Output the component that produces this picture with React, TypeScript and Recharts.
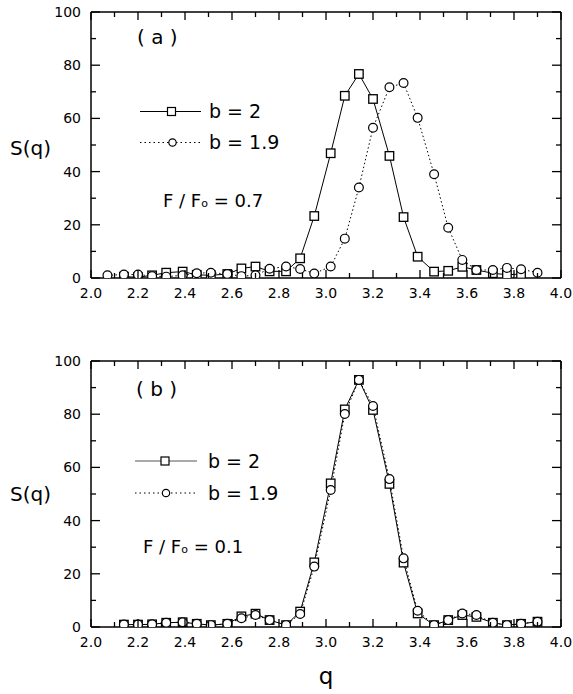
import { ComposedChart, Line, XAxis, YAxis } from "recharts";

// q positions of the data points (same grid in both panels)
const qValues = [
  2.07, 2.14, 2.2, 2.26, 2.32, 2.39, 2.45, 2.51, 2.58, 2.64,
  2.7, 2.76, 2.83, 2.89, 2.95, 3.02, 3.08, 3.14, 3.2, 3.27,
  3.33, 3.39, 3.46, 3.52, 3.58, 3.64, 3.71, 3.77, 3.83, 3.9,
];

// panel (a), F / Fo = 0.7
const squaresA = [
  null, 0.5, 0.3, 1.0, 2.0, 2.4, 1.2, 1.0, 1.5, 3.6,
  4.3, 2.5, 2.5, 7.4, 23.3, 46.9, 68.5, 76.7, 67.3, 45.9,
  22.9, 8.0, 2.4, 2.7, 4.2, 3.0, 1.8, 1.2, 1.5, null,
];
const circlesA = [
  1.0, 1.3, 1.3, 0.7, 0.5, 1.0, 1.8, 2.0, 1.5, 0.7,
  1.0, 3.5, 4.3, 3.4, 1.7, 4.3, 14.8, 34.0, 56.5, 71.7,
  73.3, 60.2, 39.0, 18.9, 6.8, 3.0, 3.0, 3.8, 3.3, 2.0,
];

// panel (b), F / Fo = 0.1
const squaresB = [
  null, 0.9, 0.9, 1.0, 1.6, 1.8, 1.2, 0.7, 1.2, 4.0,
  5.0, 2.6, 0.7, 5.8, 24.3, 54.0, 81.8, 92.9, 81.6, 53.8,
  24.2, 5.1, 0.7, 2.6, 4.5, 3.8, 1.6, 0.7, 1.2, 2.0,
];
const circlesB = [
  null, 0.9, 0.9, 1.0, 1.6, 1.8, 1.2, 0.7, 1.2, 3.3,
  4.5, 2.6, 0.7, 4.9, 22.7, 51.5, 80.1, 92.9, 83.1, 55.6,
  25.8, 6.1, 0.7, 2.6, 5.1, 4.5, 1.6, 0.7, 1.2, 2.0,
];

const xTicks = [2.0, 2.1, 2.2, 2.3, 2.4, 2.5, 2.6, 2.7, 2.8, 2.9, 3.0, 3.1, 3.2, 3.3, 3.4, 3.5, 3.6, 3.7, 3.8, 3.9, 4.0];
const yTicks = [0, 10, 20, 30, 40, 50, 60, 70, 80, 90, 100];

const FONT = "'DejaVu Sans', Verdana, sans-serif";
const axisStyle = { stroke: "#000", strokeWidth: 1.5 };

function toPoints(values: (number | null)[]) {
  return qValues
    .map((q, i) => ({ q, s: values[i] }))
    .filter((d) => d.s !== null);
}

const isMajorX = (v: number) => Math.round(v * 10) % 2 === 0;
const isMajorY = (v: number) => Math.round(v) % 20 === 0;

const BottomTick = (props: any) => {
  const { x, y, payload } = props;
  const major = isMajorX(payload.value);
  return (
    <g>
      <line x1={x} y1={y} x2={x} y2={y - (major ? 8 : 5)} stroke="#000" strokeWidth={1.3} />
      {major && (
        <text x={x} y={y + 20} textAnchor="middle" fontSize={14} fontFamily={FONT} fill="#000">
          {Number(payload.value).toFixed(1)}
        </text>
      )}
    </g>
  );
};

const TopTick = (props: any) => {
  const { x, y, payload } = props;
  const major = isMajorX(payload.value);
  return <line x1={x} y1={y} x2={x} y2={y + (major ? 8 : 5)} stroke="#000" strokeWidth={1.3} />;
};

const LeftTick = (props: any) => {
  const { x, y, payload } = props;
  const major = isMajorY(payload.value);
  return (
    <g>
      <line x1={x} y1={y} x2={x + (major ? 9 : 5)} y2={y} stroke="#000" strokeWidth={1.3} />
      {major && (
        <text x={x - 10} y={y + 5} textAnchor="end" fontSize={14} fontFamily={FONT} fill="#000">
          {payload.value}
        </text>
      )}
    </g>
  );
};

const RightTick = (props: any) => {
  const { x, y, payload } = props;
  const major = isMajorY(payload.value);
  return <line x1={x} y1={y} x2={x - (major ? 9 : 5)} y2={y} stroke="#000" strokeWidth={1.3} />;
};

const SquareDot = (props: any) => {
  const { cx, cy } = props;
  if (cx == null || cy == null) return null;
  return (
    <rect x={cx - 4.25} y={cy - 4.25} width={8.5} height={8.5} fill="#fff" stroke="#000" strokeWidth={1.3} />
  );
};

const CircleDot = (props: any) => {
  const { cx, cy } = props;
  if (cx == null || cy == null) return null;
  return <circle cx={cx} cy={cy} r={4.4} fill="#fff" stroke="#000" strokeWidth={1.2} />;
};

function Panel(props: {
  squares: (number | null)[];
  circles: (number | null)[];
  height: number;
  marginTop: number;
  bottomHeight: number;
}) {
  const { squares, circles, height, marginTop, bottomHeight } = props;
  return (
    <ComposedChart width={573} height={height} margin={{ top: marginTop, right: 11, bottom: 0, left: 0 }}>
      <XAxis
        xAxisId="bottom"
        type="number"
        dataKey="q"
        domain={[2, 4]}
        ticks={xTicks}
        interval={0}
        tickSize={0}
        tickMargin={0}
        tickLine={false}
        axisLine={axisStyle}
        tick={<BottomTick />}
        height={bottomHeight}
        allowDataOverflow
      />
      <XAxis
        xAxisId="top"
        orientation="top"
        type="number"
        dataKey="q"
        domain={[2, 4]}
        ticks={xTicks}
        interval={0}
        tickSize={0}
        tickMargin={0}
        tickLine={false}
        axisLine={axisStyle}
        tick={<TopTick />}
        height={1}
        allowDataOverflow
      />
      <YAxis
        yAxisId="left"
        type="number"
        domain={[0, 100]}
        ticks={yTicks}
        interval={0}
        tickSize={0}
        tickMargin={0}
        tickLine={false}
        axisLine={axisStyle}
        tick={<LeftTick />}
        width={91}
        allowDataOverflow
      />
      <YAxis
        yAxisId="right"
        orientation="right"
        type="number"
        domain={[0, 100]}
        ticks={yTicks}
        interval={0}
        tickSize={0}
        tickMargin={0}
        tickLine={false}
        axisLine={axisStyle}
        tick={<RightTick />}
        width={1}
        allowDataOverflow
      />
      <Line
        xAxisId="bottom"
        yAxisId="left"
        data={toPoints(squares)}
        dataKey="s"
        stroke="#000"
        strokeWidth={1}
        dot={(p: any) => <SquareDot key={`s-${p.index}`} {...p} />}
        activeDot={false}
        isAnimationActive={false}
      />
      <Line
        xAxisId="bottom"
        yAxisId="left"
        data={toPoints(circles)}
        dataKey="s"
        stroke="#000"
        strokeWidth={1}
        strokeDasharray="1.5 2.5"
        dot={(p: any) => <CircleDot key={`c-${p.index}`} {...p} />}
        activeDot={false}
        isAnimationActive={false}
      />
    </ComposedChart>
  );
}

function Legend(props: { y1: number; y2: number; x0: number; x1: number; mx: number; tx: number; color: string }) {
  const { y1, y2, x0, x1, mx, tx, color } = props;
  return (
    <g fontFamily={FONT} fill="#000">
      <line x1={x0} y1={y1} x2={x1} y2={y1} stroke={color} strokeWidth={1} />
      <rect x={mx - 4} y={y1 - 4} width={8} height={8} fill="#fff" stroke="#000" strokeWidth={1.2} />
      <text x={tx} y={y1 + 6.5} fontSize={19}>b = 2</text>
      <line x1={x0} y1={y2} x2={x1} y2={y2} stroke="#000" strokeWidth={1} strokeDasharray="1.5 3" />
      <circle cx={mx + 1} cy={y2} r={3.7} fill="#fff" stroke="#000" strokeWidth={1.2} />
      <text x={tx} y={y2 + 6.5} fontSize={19}>b = 1.9</text>
    </g>
  );
}

function RatioText(props: { x: number; y: number; value: string }) {
  return (
    <text x={props.x} y={props.y} fontSize={18} fontFamily={FONT} fill="#000">
      F / F<tspan fontSize={11}>o</tspan> = {props.value}
    </text>
  );
}

export default function App() {
  return (
    <div style={{ position: "absolute", left: 0, top: 0, width: 573, height: 694, background: "#fff" }}>
      <div style={{ position: "absolute", left: 0, top: 0 }}>
        <Panel squares={squaresA} circles={circlesA} height={300} marginTop={11} bottomHeight={22} />
      </div>
      <div style={{ position: "absolute", left: 0, top: 330 }}>
        <Panel squares={squaresB} circles={circlesB} height={364} marginTop={30} bottomHeight={67} />
      </div>
      <svg
        width={573}
        height={694}
        style={{ position: "absolute", left: 0, top: 0, pointerEvents: "none" }}
      >
        <g fontFamily={FONT} fill="#000">
          <text x={137} y={44} fontSize={20}>( a )</text>
          <text x={136} y={396} fontSize={20}>( b )</text>
          <text x={10} y={155} fontSize={20}>S(q)</text>
          <text x={10} y={501} fontSize={20}>S(q)</text>
          <text x={326} y={684} fontSize={23} textAnchor="middle">q</text>
        </g>
        <Legend y1={111.5} y2={142.5} x0={140} x1={201} mx={171.5} tx={209} color="#000" />
        <Legend y1={461} y2={493} x0={135} x1={197} mx={165} tx={208} color="#555" />
        <RatioText x={163} y={207} value="0.7" />
        <RatioText x={143} y={553} value="0.1" />
      </svg>
    </div>
  );
}
